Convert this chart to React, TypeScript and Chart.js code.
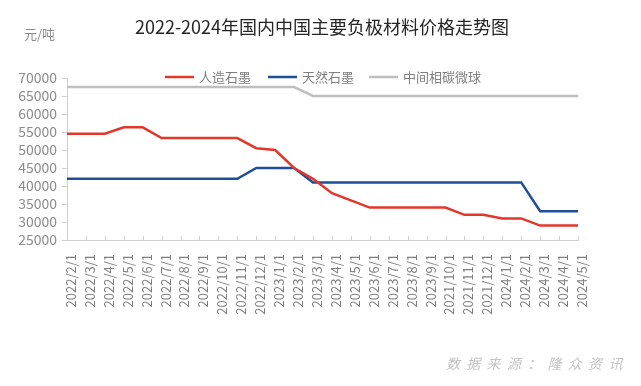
import React, { useEffect, useRef } from 'react';
import { Chart, registerables } from 'chart.js';

Chart.register(...registerables);

const categories = [
  '2022/2/1', '2022/3/1', '2022/4/1', '2022/5/1', '2022/6/1', '2022/7/1', '2022/8/1',
  '2022/9/1', '2022/10/1', '2022/11/1', '2022/12/1', '2023/1/1', '2023/2/1', '2023/3/1',
  '2023/4/1', '2023/5/1', '2023/6/1', '2023/7/1', '2023/8/1', '2023/9/1', '2021/10/1',
  '2021/11/1', '2021/12/1', '2024/1/1', '2024/2/1', '2024/3/1', '2024/4/1', '2024/5/1',
];

const artificialGraphite = [
  54500, 54500, 54500, 56300, 56300, 53300, 53300, 53300, 53300, 53300,
  50500, 50000, 45000, 42000, 38000, 36000, 34000, 34000, 34000, 34000,
  34000, 32000, 32000, 31000, 31000, 29000, 29000, 29000,
];

const naturalGraphite = [
  42000, 42000, 42000, 42000, 42000, 42000, 42000, 42000, 42000, 42000,
  45000, 45000, 45000, 41000, 41000, 41000, 41000, 41000, 41000, 41000,
  41000, 41000, 41000, 41000, 41000, 33000, 33000, 33000,
];

const mesocarbonMicrobeads = [
  67500, 67500, 67500, 67500, 67500, 67500, 67500, 67500, 67500, 67500,
  67500, 67500, 67500, 65000, 65000, 65000, 65000, 65000, 65000, 65000,
  65000, 65000, 65000, 65000, 65000, 65000, 65000, 65000,
];

const seriesNames = ['人造石墨', '天然石墨', '中间相碳微球'];
const seriesColors = ['#e2372b', '#1f4e96', '#bfbfbf'];
const yMin = 25000;
const yMax = 70000;
const yStep = 5000;
const titleText = '2022-2024年国内中国主要负极材料价格走势图';
const unitText = '元/吨';
const sourceText = '数据来源：隆众资讯';

const FONT = '"Noto Sans CJK SC", "Noto Sans", sans-serif';

export default function App() {
  const canvasRef = useRef<HTMLCanvasElement | null>(null);

  useEffect(() => {
    document.body.style.margin = '0';
    const canvas = canvasRef.current;
    if (!canvas) return;

    const overlay = {
      id: 'overlay',
      afterDraw(chart: any) {
        const ctx = chart.ctx as CanvasRenderingContext2D;
        const area = chart.chartArea;
        ctx.save();
        // title
        ctx.font = `18px ${FONT}`;
        ctx.fillStyle = '#262626';
        ctx.textAlign = 'center';
        ctx.textBaseline = 'middle';
        ctx.fillText(titleText, 322, 27);
        // unit
        ctx.font = `13px ${FONT}`;
        ctx.fillStyle = '#8c8c8c';
        ctx.textAlign = 'left';
        ctx.fillText(unitText, 24, 34);
        // legend
        const legendX = [165, 268, 369];
        chart.data.datasets.forEach((ds: any, i: number) => {
          const x = legendX[i];
          const y = 77;
          ctx.strokeStyle = ds.borderColor;
          ctx.lineWidth = 2.5;
          ctx.beginPath();
          ctx.moveTo(x, y);
          ctx.lineTo(x + 29, y);
          ctx.stroke();
          ctx.font = `13px ${FONT}`;
          ctx.fillStyle = '#7f7f7f';
          ctx.textAlign = 'left';
          ctx.textBaseline = 'middle';
          ctx.fillText(ds.label, x + 34, y);
        });
        // inward x tick marks
        const xs = chart.scales.x;
        ctx.strokeStyle = '#d0d0d0';
        ctx.lineWidth = 1;
        for (let i = 0; i < chart.data.labels.length; i++) {
          const px = Math.round(xs.getPixelForTick(i)) + 0.5;
          ctx.beginPath();
          ctx.moveTo(px, area.bottom);
          ctx.lineTo(px, area.bottom - 4);
          ctx.stroke();
        }
        // source watermark
        ctx.font = `italic 14px ${FONT}`;
        ctx.fillStyle = '#c4c4c4';
        ctx.textAlign = 'left';
        ctx.textBaseline = 'middle';
        const chars = Array.from(sourceText);
        chars.forEach((c, i) => ctx.fillText(c, 446 + i * 20.3, 364));
        ctx.restore();
      },
    };

    const chart = new Chart(canvas, {
      type: 'line',
      data: {
        labels: categories,
        datasets: [
          { label: seriesNames[0], data: artificialGraphite },
          { label: seriesNames[1], data: naturalGraphite },
          { label: seriesNames[2], data: mesocarbonMicrobeads },
        ].map((d, i) => ({
          ...d,
          borderColor: seriesColors[i],
          backgroundColor: seriesColors[i],
          borderWidth: 2.5,
          pointRadius: 0,
          tension: 0,
          fill: false,
        })),
      },
      options: {
        responsive: false,
        animation: false,
        devicePixelRatio: 1,
        layout: { padding: { left: 0, right: 63, top: 78, bottom: 0 } },
        plugins: {
          legend: { display: false },
          title: { display: false },
          tooltip: { enabled: false },
        },
        scales: {
          x: {
            type: 'category',
            offset: false,
            grid: { display: false },
            border: { display: true, color: '#d0d0d0', width: 1 },
            ticks: {
              autoSkip: false,
              minRotation: 90,
              maxRotation: 90,
              color: '#7f7f7f',
              font: { size: 13, family: FONT },
              padding: 6,
              labelOffset: 4,
            },
            afterFit(s: any) {
              s.height = 146;
            },
          },
          y: {
            min: yMin,
            max: yMax,
            grid: {
              display: true,
              drawOnChartArea: false,
              drawTicks: true,
              tickLength: 5,
              color: '#d0d0d0',
            },
            border: { display: true, color: '#d0d0d0', width: 1 },
            ticks: {
              stepSize: yStep,
              autoSkip: false,
              color: '#8c8c8c',
              font: { size: 14, family: FONT },
              padding: 5,
              callback: (v: any) => String(v),
            },
            afterFit(s: any) {
              s.width = 67;
            },
          },
        },
      },
      plugins: [overlay],
    });

    return () => chart.destroy();
  }, []);

  return (
    <div style={{ width: 641, height: 386 }}>
      <canvas ref={canvasRef} width={641} height={386} style={{ display: 'block' }} />
    </div>
  );
}
